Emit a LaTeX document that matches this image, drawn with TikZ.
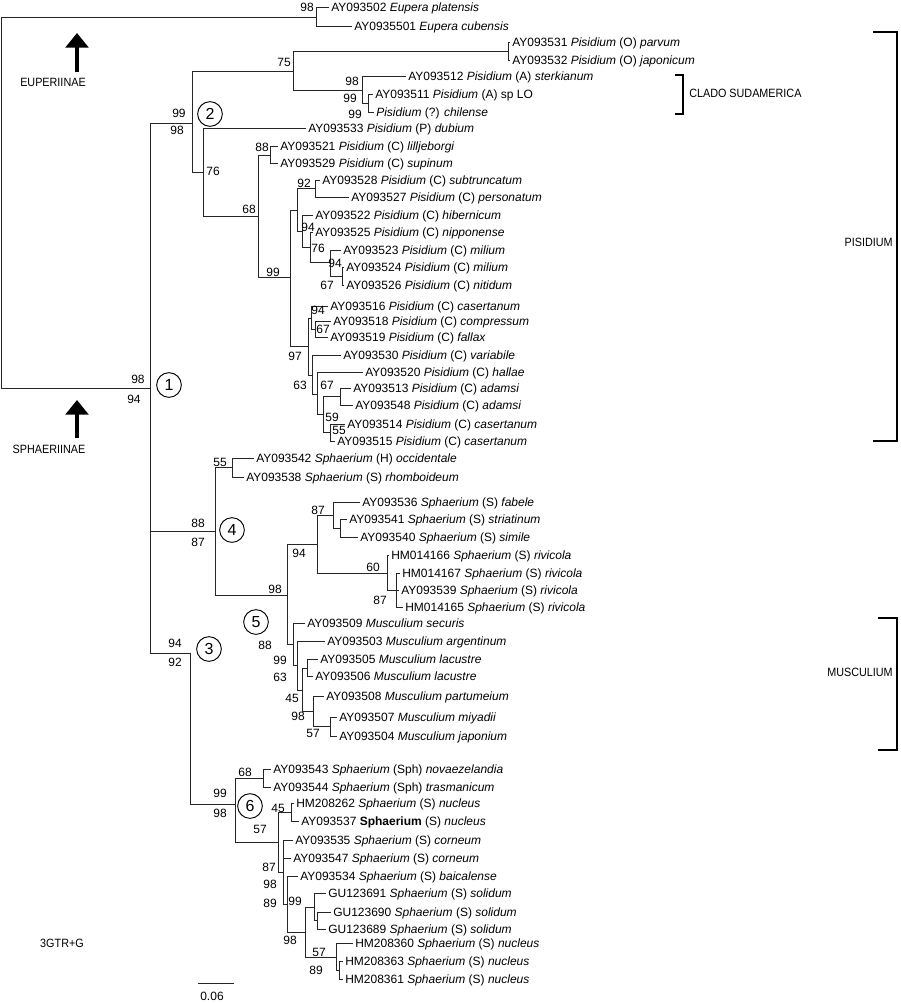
\documentclass[tikz,border=0pt]{standalone}
\usepackage{fontspec}
\setmainfont{Liberation Sans}
\newfontfamily\capsfont{Liberation Sans}[FakeStretch=0.9]
\usetikzlibrary{arrows.meta}
\newcommand{\lblfont}{\fontsize{9}{10}\selectfont}
\newcommand{\gen}[1]{\textit{#1}}

\begin{document}
\begin{tikzpicture}[x=0.75pt,y=-0.75pt,
  br/.style={line width=0.75pt,black!85},
  tip/.style={anchor=west,inner xsep=1.5pt,inner ysep=0pt,text height=6.5pt,text depth=0pt,font=\lblfont},
  bs/.style={inner sep=0pt,font=\lblfont},
  num/.style={draw,circle,line width=0.7pt,minimum size=18.5pt,inner sep=0pt,font=\fontsize{12}{13}\selectfont},
  grp/.style={inner sep=0pt,font=\capsfont\lblfont},
  brk/.style={line width=1.1pt},
  bigarr/.style={line width=3pt,-{Triangle[width=17pt,length=11pt]}}]
  \useasboundingbox (0,0) rectangle (900,1003);

  % tips: Eupera and Pisidium
  \node[tip] (t3502) at (329,7) {AY093502 \gen{Eupera platensis}};
  \node[tip] (t35501) at (352,26) {AY0935501 \gen{Eupera cubensis}};
  \node[tip] (t3531) at (510,42) {AY093531 \gen{Pisidium} (O) \gen{parvum}};
  \node[tip] (t3532) at (510,60) {AY093532 \gen{Pisidium} (O) \gen{japonicum}};
  \node[tip] (t3512) at (406,76) {AY093512 \gen{Pisidium} (A) \gen{sterkianum}};
  \node[tip] (t3511) at (373,94) {AY093511 \gen{Pisidium} (A) sp LO};
  \node[tip] (tChil) at (374,112) {\gen{Pisidium} (?) \gen{chilense}};
  \node[tip] (t3533) at (306,128) {AY093533 \gen{Pisidium} (P) \gen{dubium}};
  \node[tip] (t3521) at (278,146) {AY093521 \gen{Pisidium} (C) \gen{lilljeborgi}};
  \node[tip] (t3529) at (278,163) {AY093529 \gen{Pisidium} (C) \gen{supinum}};
  \node[tip] (t3528) at (320,180) {AY093528 \gen{Pisidium} (C) \gen{subtruncatum}};
  \node[tip] (t3527) at (349,197) {AY093527 \gen{Pisidium} (C) \gen{personatum}};
  \node[tip] (t3522) at (313,215) {AY093522 \gen{Pisidium} (C) \gen{hibernicum}};
  \node[tip] (t3525) at (313,232) {AY093525 \gen{Pisidium} (C) \gen{nipponense}};
  \node[tip] (t3523) at (341,250) {AY093523 \gen{Pisidium} (C) \gen{milium}};
  \node[tip] (t3524) at (344,267) {AY093524 \gen{Pisidium} (C) \gen{milium}};
  \node[tip] (t3526) at (344,285) {AY093526 \gen{Pisidium} (C) \gen{nitidum}};
  \node[tip] (t3516) at (328,306) {AY093516 \gen{Pisidium} (C) \gen{casertanum}};
  \node[tip] (t3518) at (331,321) {AY093518 \gen{Pisidium} (C) \gen{compressum}};
  \node[tip] (t3519) at (328,337) {AY093519 \gen{Pisidium} (C) \gen{fallax}};
  \node[tip] (t3530) at (341,355) {AY093530 \gen{Pisidium} (C) \gen{variabile}};
  \node[tip] (t3520) at (363,372) {AY093520 \gen{Pisidium} (C) \gen{hallae}};
  \node[tip] (t3513) at (351,388) {AY093513 \gen{Pisidium} (C) \gen{adamsi}};
  \node[tip] (t3548) at (353,405) {AY093548 \gen{Pisidium} (C) \gen{adamsi}};
  \node[tip] (t3514) at (345,424) {AY093514 \gen{Pisidium} (C) \gen{casertanum}};
  \node[tip] (t3515) at (335,441) {AY093515 \gen{Pisidium} (C) \gen{casertanum}};
  % tips: Sphaerium and Musculium
  \node[tip] (t3542) at (254,458) {AY093542 \gen{Sphaerium} (H) \gen{occidentale}};
  \node[tip] (t3538) at (244,477) {AY093538 \gen{Sphaerium} (S) \gen{rhomboideum}};
  \node[tip] (t3536) at (360,502) {AY093536 \gen{Sphaerium} (S) \gen{fabele}};
  \node[tip] (t3541) at (347,519) {AY093541 \gen{Sphaerium} (S) \gen{striatinum}};
  \node[tip] (t3540) at (358,537) {AY093540 \gen{Sphaerium} (S) \gen{simile}};
  \node[tip] (h4166) at (389,555) {HM014166 \gen{Sphaerium} (S) \gen{rivicola}};
  \node[tip] (h4167) at (400,573) {HM014167 \gen{Sphaerium} (S) \gen{rivicola}};
  \node[tip] (t3539) at (399,590) {AY093539 \gen{Sphaerium} (S) \gen{rivicola}};
  \node[tip] (h4165) at (403,607) {HM014165 \gen{Sphaerium} (S) \gen{rivicola}};
  \node[tip] (t3509) at (305,623) {AY093509 \gen{Musculium securis}};
  \node[tip] (t3503) at (325,641) {AY093503 \gen{Musculium argentinum}};
  \node[tip] (t3505) at (318,659) {AY093505 \gen{Musculium lacustre}};
  \node[tip] (t3506) at (313,676) {AY093506 \gen{Musculium lacustre}};
  \node[tip] (t3508) at (324,696) {AY093508 \gen{Musculium partumeium}};
  \node[tip] (t3507) at (337,717) {AY093507 \gen{Musculium miyadii}};
  \node[tip] (t3504) at (337,736) {AY093504 \gen{Musculium japonium}};
  \node[tip] (t3543) at (271,769) {AY093543 \gen{Sphaerium} (Sph) \gen{novaezelandia}};
  \node[tip] (t3544) at (271,787) {AY093544 \gen{Sphaerium} (Sph) \gen{trasmanicum}};
  \node[tip] (h8262) at (294,803) {HM208262 \gen{Sphaerium} (S) \gen{nucleus}};
  \node[tip] (t3537) at (299,821) {AY093537 \textbf{Sphaerium} (S) \gen{nucleus}};
  \node[tip] (t3535) at (293,840) {AY093535 \gen{Sphaerium} (S) \gen{corneum}};
  \node[tip] (t3547) at (291,858) {AY093547 \gen{Sphaerium} (S) \gen{corneum}};
  \node[tip] (t3534) at (298,876) {AY093534 \gen{Sphaerium} (S) \gen{baicalense}};
  \node[tip] (g3691) at (326,893) {GU123691 \gen{Sphaerium} (S) \gen{solidum}};
  \node[tip] (g3690) at (331,912) {GU123690 \gen{Sphaerium} (S) \gen{solidum}};
  \node[tip] (g3689) at (326,929) {GU123689 \gen{Sphaerium} (S) \gen{solidum}};
  \node[tip] (h8360) at (353,943) {HM208360 \gen{Sphaerium} (S) \gen{nucleus}};
  \node[tip] (h8363) at (343,961) {HM208363 \gen{Sphaerium} (S) \gen{nucleus}};
  \node[tip] (h8361) at (343,979) {HM208361 \gen{Sphaerium} (S) \gen{nucleus}};

  % internal nodes
  \coordinate (root) at (1,202);   \coordinate (nEup) at (316,17);
  \coordinate (n1) at (150,388);   \coordinate (n2) at (192,123);
  \coordinate (n75) at (293,71);   \coordinate (nO) at (508,51);
  \coordinate (nA) at (362,90);    \coordinate (nA2) at (368,103);
  \coordinate (n76) at (203,172);  \coordinate (n68) at (258,216);
  \coordinate (n88c) at (270,155); \coordinate (n99) at (290,277);
  \coordinate (nX) at (297,210);   \coordinate (n92) at (315,188);
  \coordinate (nY) at (302,231);   \coordinate (nZ) at (310,247);
  \coordinate (nW) at (330,262);   \coordinate (nV) at (342,276);
  \coordinate (n97) at (308,346);  \coordinate (nCa) at (311,318);
  \coordinate (nB) at (315,329);   \coordinate (nC) at (312,375);
  \coordinate (nD) at (317,394);   \coordinate (nE) at (323,414);
  \coordinate (nF) at (340,396);   \coordinate (nG) at (330,432);
  \coordinate (n88) at (215,531);  \coordinate (n55) at (232,467);
  \coordinate (n98) at (287,595);  \coordinate (n94) at (317,544);
  \coordinate (n87) at (333,515);  \coordinate (nSt) at (340,528);
  \coordinate (n60) at (387,573);  \coordinate (nR) at (396,590);
  \coordinate (nM1) at (293,644);  \coordinate (nM2) at (297,665);
  \coordinate (nM3) at (302,690);  \coordinate (nM4) at (307,668);
  \coordinate (nM5) at (313,711);  \coordinate (nM6) at (330,726);
  \coordinate (n3) at (190,653);   \coordinate (n6) at (235,804);
  \coordinate (n68s) at (263,778); \coordinate (n57) at (278,842);
  \coordinate (n45) at (291,812);  \coordinate (nK) at (283,872);
  \coordinate (nL) at (287,904);   \coordinate (nS98) at (305,932);
  \coordinate (nS99) at (314,907); \coordinate (nSo) at (317,920);
  \coordinate (nS57) at (336,957); \coordinate (nH) at (339,970);

  % branches
  \draw[br] (root) |- (nEup) (root) |- (n1)
    (nEup) |- (t3502.west) (nEup) |- (t35501.west)
    (n1) |- (n2) (n1) |- (n88) (n1) |- (n3)
    (n2) |- (n75) (n2) |- (n76)
    (n75) |- (nO) (n75) |- (nA)
    (nO) |- (t3531.west) (nO) |- (t3532.west)
    (nA) |- (t3512.west) (nA) |- (nA2)
    (nA2) |- (t3511.west) (nA2) |- (tChil.west)
    (n76) |- (t3533.west) (n76) |- (n68)
    (n68) |- (n88c) (n68) |- (n99)
    (n88c) |- (t3521.west) (n88c) |- (t3529.west)
    (n99) |- (nX) (n99) |- (n97)
    (nX) |- (n92) (nX) |- (nY)
    (n92) |- (t3528.west) (n92) |- (t3527.west)
    (nY) |- (t3522.west) (nY) |- (nZ)
    (nZ) |- (t3525.west) (nZ) |- (nW)
    (nW) |- (t3523.west) (nW) |- (nV)
    (nV) |- (t3524.west) (nV) |- (t3526.west)
    (n97) |- (nCa) (n97) |- (nC)
    (nCa) |- (t3516.west) (nCa) |- (nB)
    (nB) |- (t3518.west) (nB) |- (t3519.west)
    (nC) |- (t3530.west) (nC) |- (nD)
    (nD) |- (t3520.west) (nD) |- (nE)
    (nE) |- (nF) (nE) |- (nG)
    (nF) |- (t3513.west) (nF) |- (t3548.west)
    (nG) |- (t3514.west) (nG) |- (t3515.west)
    (n88) |- (n55) (n88) |- (n98)
    (n55) |- (t3542.west) (n55) |- (t3538.west)
    (n98) |- (n94) (n98) |- (nM1)
    (n94) |- (n87) (n94) |- (n60)
    (n87) |- (t3536.west) (n87) |- (nSt)
    (nSt) |- (t3541.west) (nSt) |- (t3540.west)
    (n60) |- (h4166.west) (n60) |- (nR)
    (nR) |- (h4167.west) (nR) |- (t3539.west) (nR) |- (h4165.west)
    (nM1) |- (t3509.west) (nM1) |- (nM2)
    (nM2) |- (t3503.west) (nM2) |- (nM3)
    (nM3) |- (nM4) (nM3) |- (nM5)
    (nM4) |- (t3505.west) (nM4) |- (t3506.west)
    (nM5) |- (t3508.west) (nM5) |- (nM6)
    (nM6) |- (t3507.west) (nM6) |- (t3504.west)
    (n3) |- (n6)
    (n6) |- (n68s) (n6) |- (n57)
    (n68s) |- (t3543.west) (n68s) |- (t3544.west)
    (n57) |- (n45) (n57) |- (nK)
    (n45) |- (h8262.west) (n45) |- (t3537.west)
    (nK) |- (t3535.west) (nK) |- (t3547.west) (nK) |- (nL)
    (nL) |- (t3534.west) (nL) |- (nS98)
    (nS98) |- (nS99) (nS98) |- (nS57)
    (nS99) |- (g3691.west) (nS99) |- (nSo)
    (nSo) |- (g3690.west) (nSo) |- (g3689.west)
    (nS57) |- (h8360.west) (nS57) |- (nH)
    (nH) |- (h8363.west) (nH) |- (h8361.west);

  % support values
  \node[bs] (b01) at (307,7) {98};   \node[bs] (b02) at (284,62) {75};
  \node[bs] (b03) at (352,81) {98};  \node[bs] (b04) at (350,98) {99};
  \node[bs] (b05) at (355,114) {99}; \node[bs] (b06) at (179,113) {99};
  \node[bs] (b07) at (177,130) {98}; \node[bs] (b08) at (262,147) {88};
  \node[bs] (b09) at (213,171) {76}; \node[bs] (b10) at (304,183) {92};
  \node[bs] (b11) at (249,209) {68}; \node[bs] (b12) at (308,227) {94};
  \node[bs] (b13) at (318,248) {76}; \node[bs] (b14) at (335,263) {94};
  \node[bs] (b15) at (273,272) {99}; \node[bs] (b16) at (327,285) {67};
  \node[bs] (b17) at (318,310) {94}; \node[bs] (b18) at (323,329) {67};
  \node[bs] (b19) at (295,356) {97}; \node[bs] (b20) at (300,385) {63};
  \node[bs] (b21) at (327,385) {67}; \node[bs] (b22) at (332,417) {59};
  \node[bs] (b23) at (339,430) {55}; \node[bs] (b24) at (138,379) {98};
  \node[bs] (b25) at (134,399) {94}; \node[bs] (b26) at (220,462) {55};
  \node[bs] (b27) at (318,510) {87}; \node[bs] (b28) at (198,523) {88};
  \node[bs] (b29) at (198,542) {87}; \node[bs] (b30) at (299,553) {94};
  \node[bs] (b31) at (373,567) {60}; \node[bs] (b32) at (275,589) {98};
  \node[bs] (b33) at (380,600) {87}; \node[bs] (b34) at (175,643) {94};
  \node[bs] (b35) at (175,662) {92}; \node[bs] (b36) at (265,645) {88};
  \node[bs] (b37) at (280,660) {99}; \node[bs] (b38) at (280,677) {63};
  \node[bs] (b39) at (292,698) {45}; \node[bs] (b40) at (298,716) {98};
  \node[bs] (b41) at (313,733) {57}; \node[bs] (b42) at (245,772) {68};
  \node[bs] (b43) at (220,793) {99}; \node[bs] (b44) at (220,813) {98};
  \node[bs] (b45) at (278,808) {45}; \node[bs] (b46) at (260,829) {57};
  \node[bs] (b47) at (269,867) {87}; \node[bs] (b48) at (270,884) {98};
  \node[bs] (b49) at (270,903) {89}; \node[bs] (b50) at (295,901) {99};
  \node[bs] (b51) at (290,940) {98}; \node[bs] (b52) at (319,952) {57};
  \node[bs] (b53) at (316,970) {89};

  % numbered clades
  \node[num] (c1) at (169,385) {1};
  \node[num] (c2) at (210,114) {2};
  \node[num] (c3) at (209,649) {3};
  \node[num] (c4) at (232,530) {4};
  \node[num] (c5) at (256,622) {5};
  \node[num] (c6) at (250,806) {6};

  % subfamilies
  \node[grp] (eupLbl) at (53,82) {EUPERIINAE};
  \coordinate (eupBase) at (77,72); \coordinate (eupTip) at (77,33);
  \draw[bigarr] (eupBase) -- (eupTip);
  \node[grp] (sphLbl) at (49,449) {SPHAERIINAE};
  \coordinate (sphBase) at (77,438); \coordinate (sphTip) at (77,400);
  \draw[bigarr] (sphBase) -- (sphTip);

  % brackets
  \draw[brk] (675,75) -- (683,75) -- (683,114) -- (675,114);
  \node[grp,anchor=west] (cladoLbl) at (689,93) {CLADO SUDAMERICA};
  \draw[brk] (873,32) -- (897,32) -- (897,441) -- (873,441);
  \node[grp,anchor=east] (pisLbl) at (893,242) {PISIDIUM};
  \draw[brk] (878,618) -- (897,618) -- (897,750) -- (878,750);
  \node[grp,anchor=east] (musLbl) at (893,672) {MUSCULIUM};

  % model and scale
  \node[grp] (model) at (62,943) {3GTR+G};
  \coordinate (sbL) at (198,983); \coordinate (sbR) at (234,983);
  \draw[br] (sbL) -- (sbR);
  \node[bs] (sbLbl) at (212,996) {0.06};
\end{tikzpicture}
\end{document}
